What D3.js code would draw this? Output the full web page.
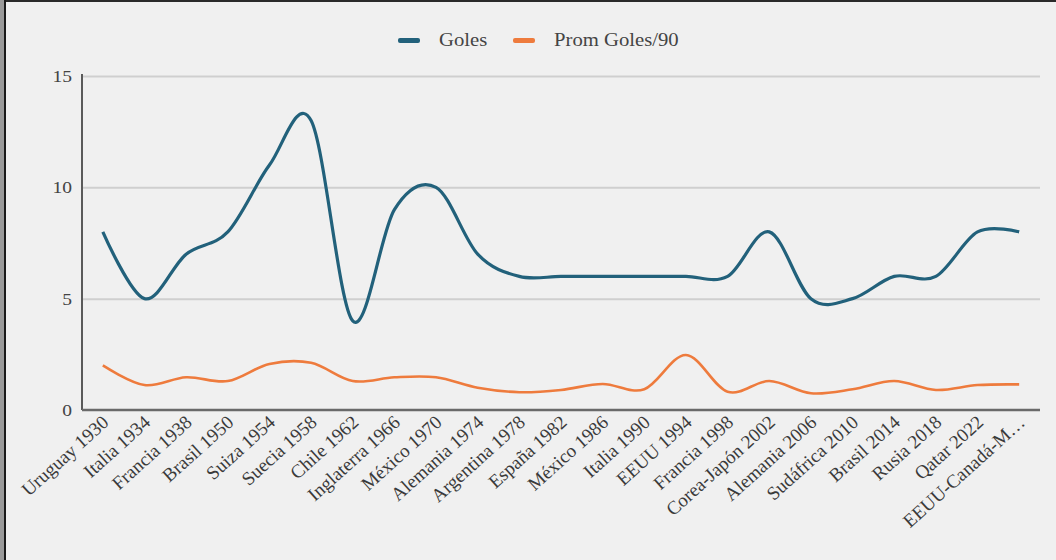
<!DOCTYPE html>
<html>
<head>
<meta charset="utf-8">
<script src="https://cdn.jsdelivr.net/npm/d3@7"></script>
<style>
    html, body { margin: 0; padding: 0; background: #f0f0f0; }
    svg { display: block; }
    .tick text, .xlabel, .legend text { font-family: "Liberation Serif", "Times New Roman", serif; fill: #444; }
    .xlabel { fill: #3a3a3a; }
</style>
</head>
<body>
<script>
(function(){

    // Mundiales (sede + año)
    var categories = ["Uruguay 1930", "Italia 1934", "Francia 1938", "Brasil  1950", "Suiza 1954",
                      "Suecia 1958", "Chile 1962", "Inglaterra 1966", "México 1970", "Alemania 1974",
                      "Argentina 1978", "España 1982", "México 1986", "Italia 1990", "EEUU 1994",
                      "Francia 1998", "Corea-Japón 2002", "Alemania 2006", "Sudáfrica 2010",
                      "Brasil 2014", "Rusia 2018", "Qatar 2022", "EEUU-Canadá-México 2026"];

    // goles del máximo goleador
    var goles = [8, 5, 7, 8, 11, 13, 4, 9, 10, 7, 6, 6, 6, 6, 6, 6, 8, 5, 5, 6, 6, 8, 8];

    // promedio de goles cada 90 minutos
    var promGoles90 = [2.0, 1.12, 1.47, 1.3, 2.07, 2.12, 1.3, 1.47, 1.47, 1.0, 0.8, 0.9,
                       1.17, 0.93, 2.47, 0.82, 1.3, 0.75, 0.93, 1.3, 0.9, 1.12, 1.15];

    var yTicks = [0, 5, 10, 15];

    var seriesNames = ["Goles", "Prom Goles/90"];
    var seriesColors = ["#22617b", "#ee7b3d"];

    var width = 1056,
        height = 560,
        left = 82,
        right = 1040,
        top = 76,
        bottom = 410,
        stretch = 1.15;

    var svg = d3.select("body")
        .append("svg")
        .attr("width", width)
        .attr("height", height);

    svg.append("rect")
        .attr("width", width)
        .attr("height", height)
        .attr("fill", "#f0f0f0");

    // marco oscuro del recorte
    svg.append("rect").attr("x", 0).attr("y", 0).attr("width", width).attr("height", 2).attr("fill", "#2a2a2a");
    svg.append("rect").attr("x", 0).attr("y", 0).attr("width", 4).attr("height", height).attr("fill", "#9a9a9a");
    svg.append("rect").attr("x", 4).attr("y", 0).attr("width", 2).attr("height", height).attr("fill", "#1a1a1a");

    var x = d3.scalePoint()
        .domain(categories)
        .range([left, right])
        .padding(0.5);

    var y = d3.scaleLinear()
        .domain([0, 15])
        .range([bottom, top]);

    // lineas de grilla
    svg.append("g")
        .attr("class", "grid")
        .attr("transform", "translate(" + left + ",0)")
        .call(d3.axisLeft(y).tickValues(yTicks.slice(1)).tickSize(-(right - left)).tickFormat(""))
        .call(function(g) {
            g.select(".domain").remove();
            g.selectAll("line").attr("stroke", "#cfcfcf").attr("stroke-width", 2);
        });

    // eje y
    var yAxis = svg.append("g")
        .attr("class", "axis")
        .attr("transform", "translate(" + left + ",0)")
        .call(d3.axisLeft(y).tickValues(yTicks).tickSize(0).tickPadding(10));

    yAxis.select(".domain").remove();
    yAxis.selectAll(".tick text")
        .attr("font-size", 17)
        .attr("transform", function() {
            return "scale(" + stretch + ",1)";
        })
        .attr("x", -10 / stretch);

    svg.append("line")
        .attr("x1", left).attr("x2", left)
        .attr("y1", top - 2).attr("y2", bottom)
        .attr("stroke", "#5a5a5a")
        .attr("stroke-width", 2);

    svg.append("line")
        .attr("x1", left).attr("x2", right)
        .attr("y1", bottom).attr("y2", bottom)
        .attr("stroke", "#6a6a6a")
        .attr("stroke-width", 2.5);

    // etiquetas del eje x
    svg.selectAll(".xlabel")
        .data(categories)
        .enter()
        .append("text")
        .attr("class", "xlabel")
        .attr("font-size", 19)
        .attr("text-anchor", "end")
        .attr("transform", function(d) {
            return "translate(" + (x(d) + 7) + "," + (bottom + 14) + ") rotate(-42)";
        })
        .text(function(d) {
            return d.length > 16 ? d.slice(0, 13) + "…" : d;
        });

    // lineas
    var line = d3.line()
        .x(function(d, i) { return x(categories[i]); })
        .y(function(d) { return y(d); })
        .curve(d3.curveCardinal.tension(0));

    [goles, promGoles90].forEach(function(values, i) {
        svg.append("path")
            .datum(values)
            .attr("fill", "none")
            .attr("stroke", seriesColors[i])
            .attr("stroke-width", i == 0 ? 3.2 : 2.6)
            .attr("stroke-linejoin", "round")
            .attr("d", line);
    });

    // leyenda
    var legend = svg.append("g").attr("class", "legend");
    var legendX = [398, 513];

    seriesNames.forEach(function(name, i) {
        legend.append("rect")
            .attr("x", legendX[i])
            .attr("y", 38)
            .attr("width", 22)
            .attr("height", 5)
            .attr("rx", 2)
            .attr("fill", seriesColors[i]);
        legend.append("text")
            .attr("transform", "translate(" + (legendX[i] + 41) + ",46) scale(" + stretch + ",1)")
            .attr("font-size", 18)
            .text(name);
    });

})();
</script>
</body>
</html>
